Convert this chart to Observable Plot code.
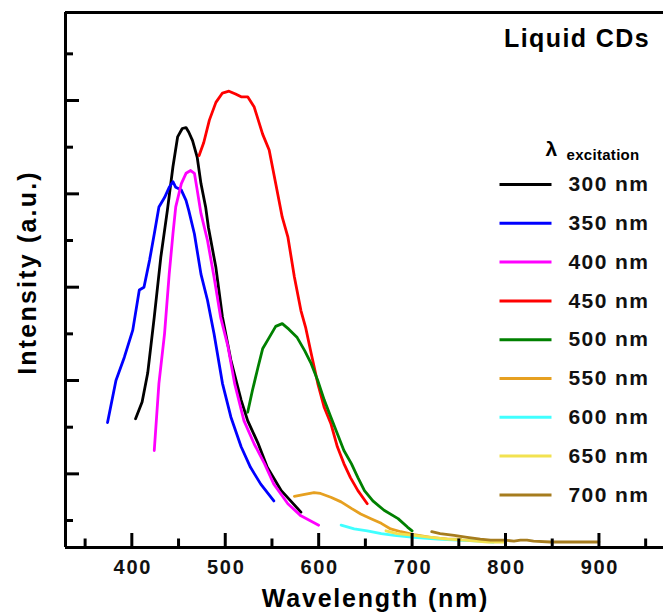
<!DOCTYPE html>
<html><head><meta charset="utf-8">
<script src="https://cdn.jsdelivr.net/npm/d3@7"></script>
<script src="https://cdn.jsdelivr.net/npm/@observablehq/plot@0.6"></script>
<style>
body{margin:0;background:#fff}
#chart svg{font-family:"Liberation Sans",Arial,sans-serif;}
</style>
</head><body><div id="chart"></div>
<script>
// ---- data ----
const seriesNames = ["300 nm","350 nm","400 nm","450 nm","500 nm","550 nm","600 nm","650 nm","700 nm"];
const seriesColors = ["#000000","#0000ff","#ff00ff","#ff0000","#008000","#e6a020","#40ffff","#f2e250","#a67c1e"];

const wl300 = [404,411,417,424,431,438,444,449,454,458,461,465,470,474,479,482,490,497,506,517,524,535,545,560,581];
const in300 = [1.59,1.77,2.08,2.68,3.32,3.82,4.29,4.61,4.70,4.71,4.66,4.57,4.39,4.11,3.86,3.64,3.21,2.68,2.22,1.79,1.57,1.33,1.07,0.82,0.59];

const wl350 = [374,383,392,401,408,413,419,424,429,435,440,444,447,453,458,461,467,474,481,488,497,506,517,527,538,552];
const in350 = [1.55,2.00,2.25,2.54,2.97,3.00,3.29,3.57,3.86,3.96,4.07,4.13,4.07,4.04,3.93,3.82,3.57,3.14,2.86,2.50,1.97,1.61,1.29,1.07,0.89,0.71];

const wl400 = [424,429,435,440,444,447,453,458,463,467,470,474,481,488,495,503,510,520,531,542,552,567,581,600];
const in400 = [1.25,1.97,2.50,3.14,3.57,3.86,4.11,4.22,4.25,4.22,4.04,3.79,3.50,3.11,2.68,2.36,1.97,1.57,1.32,1.11,0.89,0.68,0.55,0.45];

const wl450 = [472,477,483,490,497,504,511,517,524,531,540,547,554,561,567,574,581,586,592,599,606,613,620,627,634,642,652];
const in450 = [4.41,4.55,4.79,4.98,5.08,5.10,5.07,5.04,5.04,4.93,4.64,4.47,4.11,3.75,3.54,3.11,2.75,2.57,2.29,1.97,1.71,1.54,1.29,1.11,0.96,0.82,0.68];

const wl500 = [524,529,535,540,547,554,561,568,577,585,592,599,606,613,620,627,635,642,649,658,670,685,695,700];
const in500 = [1.66,1.89,2.14,2.34,2.46,2.58,2.61,2.55,2.46,2.32,2.18,2.00,1.79,1.61,1.43,1.25,1.11,0.96,0.82,0.71,0.61,0.52,0.43,0.39];

const wl550 = [574,585,595,602,613,624,635,645,656,667,677,688,702,720,738,752];
const in550 = [0.76,0.78,0.80,0.79,0.75,0.70,0.63,0.57,0.52,0.47,0.41,0.38,0.35,0.32,0.30,0.30];

const wl600 = [624,638,652,667,681,702,727,749,774,787];
const in600 = [0.45,0.41,0.39,0.36,0.34,0.32,0.30,0.29,0.28,0.27];

const wl650 = [672,684,702,720,738,756,781,800];
const in650 = [0.39,0.36,0.34,0.32,0.30,0.29,0.27,0.27];

const wl700 = [721,730,745,759,773,784,798,809,816,823,830,848,873,900];
const in700 = [0.38,0.36,0.34,0.32,0.30,0.29,0.29,0.28,0.29,0.29,0.28,0.27,0.27,0.27];

const xMajorTicks = [400,500,600,700,800,900];
const xMinorTicks = [350,450,550,650,750,850,950];
const yMajorTicks = [1,2,3,4,5];
const yMinorTicks = [0.5,1.5,2.5,3.5,4.5,5.5];

const chartTitle = "Liquid CDs";
const xLabel = "Wavelength (nm)";
const yLabel = "Intensity (a.u.)";

// ---- build ----
const wls = [wl300,wl350,wl400,wl450,wl500,wl550,wl600,wl650,wl700];
const ins = [in300,in350,in400,in450,in500,in550,in600,in650,in700];
const rows = [];
seriesNames.forEach((s,i) => wls[i].forEach((w,j) => rows.push({series:s, wl:w, y:ins[i][j]})));

const W = 663, H = 615, mL = 65, mR = 0, mT = 12, mB = 68;
const xDom = [329, 969.1], yDom = [0.211, 5.943];
// pixel -> data helpers (for legend / label placement)
const xAt = px => xDom[0] + (px - mL) / (W - mL - mR) * (xDom[1] - xDom[0]);
const yAt = py => yDom[0] + (H - mB - py) / (H - mB - mT) * (yDom[1] - yDom[0]);

const legend = seriesNames.map((s,i) => ({series:s, color:seriesColors[i], py: 184 + i*38.8}));

const F = "bold";
const chart = Plot.plot({
  width: W, height: H,
  marginLeft: mL, marginRight: mR, marginTop: mT, marginBottom: mB,
  x: {domain: xDom, axis: null},
  y: {domain: yDom, axis: null},
  color: {domain: seriesNames, range: seriesColors},
  marks: [
    Plot.line(rows, {x:"wl", y:"y", z:"series", stroke:"series", strokeWidth:2.8, strokeLinejoin:"round"}),
    // frame lines
    Plot.ruleX([xDom[0]], {stroke:"#000", strokeWidth:3}),
    Plot.ruleY([yDom[0]], {stroke:"#000", strokeWidth:3}),
    Plot.ruleY([yDom[1]], {stroke:"#000", strokeWidth:3}),
    // inward ticks
    Plot.axisX(xMajorTicks, {anchor:"bottom", tickSize:-14, strokeWidth:3, tickFormat:() => "", label:null}),
    Plot.axisX(xMinorTicks, {anchor:"bottom", tickSize:-8.5, strokeWidth:3, tickFormat:() => "", label:null}),
    Plot.axisY(yMajorTicks, {anchor:"left", tickSize:-14, strokeWidth:3, tickFormat:() => "", label:null}),
    Plot.axisY(yMinorTicks, {anchor:"left", tickSize:-8, strokeWidth:3, tickFormat:() => "", label:null}),
    // tick labels
    Plot.text(xMajorTicks, {x: d => d, frameAnchor:"bottom", dy: 20, dx: 1, lineAnchor:"middle", text: d => String(d), fontSize:20, fontWeight:F, fill:"#111"}),
    // axis labels
    Plot.text([xLabel], {x: xAt(375), frameAnchor:"bottom", dy: 51, lineAnchor:"middle", fontSize:25, fontWeight:F, fill:"#000"}),
    Plot.text([yLabel], {x: xAt(27), y: yAt(272), rotate:-90, lineAnchor:"middle", fontSize:25, fontWeight:F, fill:"#000"}),
    // title
    Plot.text([chartTitle], {x: xAt(649.5), y: yAt(38), textAnchor:"end", lineAnchor:"middle", fontSize:25, fontWeight:F, fill:"#000"}),
    // legend header
    Plot.text(["λ"], {x: xAt(545), y: yAt(149), textAnchor:"start", lineAnchor:"middle", fontSize:21, fontWeight:F, fill:"#000"}),
    Plot.text(["excitation"], {x: xAt(566), y: yAt(155), textAnchor:"start", lineAnchor:"middle", fontSize:15, fontWeight:F, fill:"#000"}),
    // legend swatches
    Plot.link(legend, {x1: xAt(499), x2: xAt(551), y1: d => yAt(d.py), y2: d => yAt(d.py), stroke: d => d.color, strokeWidth:3}),
    Plot.text(legend, {x: xAt(568), y: d => yAt(d.py), text:"series", textAnchor:"start", lineAnchor:"middle", fontSize:21, fontWeight:F, fill:"#111"})
  ]
});
// widen letter spacing to match the reference typeface width
const spacing = new Map([[xLabel, "1.8px"], [yLabel, "2.2px"], [chartTitle, "1.4px"], ["excitation", "0.3px"]]);
seriesNames.forEach(s => spacing.set(s, "1.4px"));
xMajorTicks.forEach(t => spacing.set(String(t), "1.7px"));
d3.select(chart).selectAll("text").each(function() {
  const sp = spacing.get(this.textContent);
  if (sp) this.style.letterSpacing = sp;
});
document.getElementById("chart").appendChild(chart);
</script>
</body></html>
